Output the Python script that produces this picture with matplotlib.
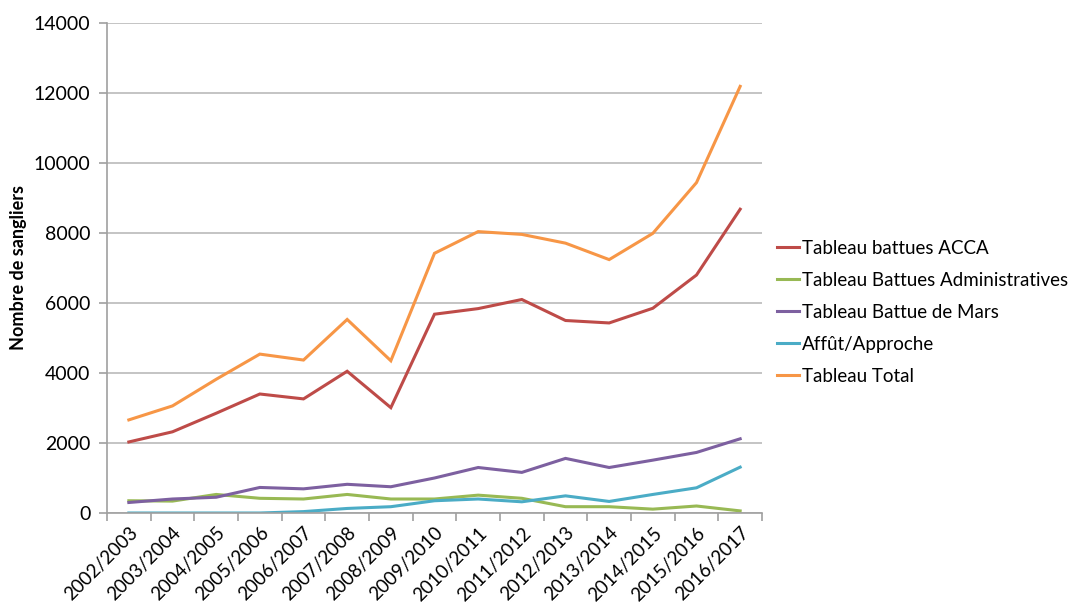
import matplotlib.pyplot as plt
import numpy as np

saisons = ["2002/2003", "2003/2004", "2004/2005", "2005/2006", "2006/2007",
           "2007/2008", "2008/2009", "2009/2010", "2010/2011", "2011/2012",
           "2012/2013", "2013/2014", "2014/2015", "2015/2016", "2016/2017"]

battues_acca = [2030, 2320, 2850, 3400, 3260, 4050, 3010, 5680, 5840, 6100,
                5500, 5430, 5850, 6800, 8680]
battues_admin = [350, 340, 530, 420, 400, 530, 400, 400, 510, 420,
                 180, 180, 110, 200, 60]
battue_mars = [300, 400, 450, 730, 690, 820, 750, 1000, 1300, 1160,
               1560, 1300, 1510, 1730, 2120]
affut = [0, 0, 0, 0, 40, 130, 180, 350, 400, 320,
         490, 330, 530, 720, 1310]
total = [2660, 3060, 3820, 4540, 4370, 5530, 4350, 7420, 8040, 7960,
         7710, 7240, 7990, 9440, 12190]

series = [
    ("Tableau battues ACCA", battues_acca, "#BE4B48"),
    ("Tableau Battues Administratives", battues_admin, "#98B954"),
    ("Tableau Battue de Mars", battue_mars, "#7D60A0"),
    ("Affût/Approche", affut, "#4BACC6"),
    ("Tableau Total", total, "#F79646"),
]

plt.rcParams["font.family"] = ["Lato", "DejaVu Sans"]

fig = plt.figure(figsize=(10.77, 6.05), dpi=100)
ax = fig.add_axes([107 / 1077, 1 - 513 / 605, 655 / 1077, 490 / 605])

x = np.arange(len(saisons))
for nom, vals, col in series:
    ax.plot(x, vals, color=col, lw=2.2, label=nom, solid_joinstyle="miter")

ax.set_xlim(-0.5, len(saisons) - 0.5)
ax.set_ylim(0, 14000)
ax.set_yticks(np.arange(0, 14001, 2000))
ax.yaxis.grid(True, color="#BFBFBF", lw=1.3)
ax.set_axisbelow(True)

ax.set_xticks(x)
ax.set_xticklabels(saisons, rotation=45, ha="right", rotation_mode="anchor",
                   fontsize=13.5)
ax.set_xticks(np.arange(-0.5, len(saisons)), minor=True)
ax.tick_params(axis="x", which="major", length=0, pad=8)
ax.tick_params(axis="x", which="minor", length=6, color="#A0A0A0", width=1.2)
ax.tick_params(axis="y", length=6, color="#A0A0A0", width=1.2, labelsize=14, pad=6)

for s in ["top", "right"]:
    ax.spines[s].set_visible(False)
for s in ["left", "bottom"]:
    ax.spines[s].set_color("#A0A0A0")
    ax.spines[s].set_linewidth(1.2)

fig.text(19 / 1077, 1 - 268 / 605, "Nombre de sangliers", rotation=90,
         ha="center", va="center", fontsize=13, fontweight="bold")

ax.legend(loc="upper left", bbox_to_anchor=(777 / 1077, 1 - 240 / 605),
          bbox_transform=fig.transFigure, frameon=False, fontsize=13.5,
          handlelength=1.15, handletextpad=0.2, labelspacing=0.8,
          borderaxespad=0, borderpad=0)

fig.savefig("out.png", dpi=100)
